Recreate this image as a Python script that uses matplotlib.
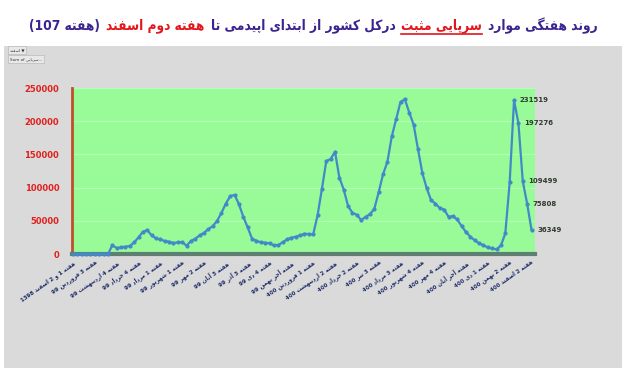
import re
import numpy as np
import matplotlib
matplotlib.use('Agg')
import matplotlib.pyplot as plt
from matplotlib.patches import Rectangle

# weekly positive outpatient cases, week 1 (Esfand 1398) .. week 107
cases = [0, 0, 0, 0, 0, 0, 0, 0, 0,
         13000, 9000, 10000, 11000, 12000, 17500, 25000, 33500, 36000, 28000,
         23500, 22000, 19500, 18500, 16500, 17500, 18000, 12500, 19500, 23000,
         28000, 32000, 37500, 42000, 50000, 62000, 76000, 87000, 89000, 75000,
         56000, 40000, 23000, 20000, 17500, 17000, 16000, 13000, 13500, 17500,
         22000, 24500, 26000, 28000, 30500, 30000, 29500, 58000, 98000, 140000,
         143000, 154000, 115000, 97000, 72000, 62000, 59000, 51000, 56000, 60000,
         68000, 93000, 120000, 139000, 177000, 203000, 229000, 233000, 213000, 195000,
         158000, 122000, 99000, 81000, 76000, 69000, 67000, 56000, 57000, 52000,
         42000, 33000, 26000, 20500, 16000, 13000, 10000, 8300, 7000, 13000,
         31000, 108000, 231519, 197276, 109499, 75808, 36349]

tick_labels = ['هفته 1 و 2 اسفند 1398', 'هفته 3 فروردین 99', 'هفته 4 اردیبهشت 99',
               'هفته 4 خرداد 99', 'هفته 1 مرداد 99', 'هفته 1 شهریور 99', 'هفته 2 مهر 99',
               'هفته 3 آبان 99', 'هفته 3 آذر 99', 'هفته 4 دی 99', 'هفته آخر بهمن 99',
               'هفته 1 فروردین 400', 'هفته 2 اردیبهشت 400', 'هفته 2 خرداد 400',
               'هفته 3 تیر 400', 'هفته 3 مرداد 400', 'هفته 4 شهریور 400', 'هفته 4 مهر 400',
               'هفته آخر آبان 400', 'هفته 1 دی 400', 'هفته 2 بهمن 400', 'هفته 2 اسفند 400']
tick_step = 5
labeled = [101, 102, 103, 104, 105]

title_parts = [('روند هفتگی موارد', '#3b2490'), ('سرپایی مثبت', '#e3161c'),
               ('درکل کشور از ابتدای اپیدمی تا', '#3b2490'), ('هفته دوم اسفند', '#e3161c'),
               ('(هفته 107)', '#3b2490')]

# minimal arabic shaping (matplotlib has no RTL / joining support)
# letter -> (first presentation code, number of forms)
FORMS = {'ا': (0xFE8D, 2), 'آ': (0xFE81, 2), 'ب': (0xFE8F, 4), 'پ': (0xFB56, 4),
         'ت': (0xFE95, 4), 'ث': (0xFE99, 4), 'ج': (0xFE9D, 4), 'چ': (0xFB7A, 4),
         'ح': (0xFEA1, 4), 'خ': (0xFEA5, 4), 'د': (0xFEA9, 2), 'ذ': (0xFEAB, 2),
         'ر': (0xFEAD, 2), 'ز': (0xFEAF, 2), 'ژ': (0xFB8A, 2), 'س': (0xFEB1, 4),
         'ش': (0xFEB5, 4), 'ف': (0xFED1, 4), 'ق': (0xFED5, 4), 'ک': (0xFB8E, 4),
         'گ': (0xFB92, 4), 'ل': (0xFEDD, 4), 'م': (0xFEE1, 4), 'ن': (0xFEE5, 4),
         'و': (0xFEED, 2), 'ه': (0xFEE9, 4), 'ی': (0xFBFC, 4)}


def shape(s):
    out = []
    for i, ch in enumerate(s):
        if ch not in FORMS:
            out.append(ch)
            continue
        base, n = FORMS[ch]
        prev = s[i - 1] if i > 0 else ''
        nxt = s[i + 1] if i + 1 < len(s) else ''
        jp = prev in FORMS and FORMS[prev][1] == 4
        jn = nxt in FORMS and n == 4
        if jp and jn:
            off = 3
        elif jp:
            off = 1
        elif jn:
            off = 2
        else:
            off = 0
        out.append(chr(base + off))
    return ''.join(out)


def rtl(s):
    t = shape(s)[::-1]
    t = t.translate({ord('('): ')', ord(')'): '('})
    return re.sub(r'[0-9]+', lambda m: m.group(0)[::-1], t)


fig = plt.figure(figsize=(6.4, 3.68), dpi=100)
fig.patch.set_facecolor('white')
fig.add_artist(Rectangle((4 / 640, 0), 618 / 640, 322 / 368, transform=fig.transFigure,
                         facecolor='#dadada', edgecolor='none', zorder=0))

ax = fig.add_axes([71.7 / 640, 114 / 368, 463.3 / 640, 166 / 368])
ax.set_facecolor('#98fb98')
x = np.arange(len(cases))
ax.plot(x, cases, color='#4189c8', lw=1.6, marker='o', ms=2.0, clip_on=False, zorder=3)
ax.set_xlim(-0.3, 105.8)
ax.set_ylim(0, 250000)

ax.set_yticks(range(0, 250001, 50000))
ax.set_yticklabels([str(v) for v in range(0, 250001, 50000)])
ax.tick_params(axis='y', length=0, pad=9, labelsize=6, labelcolor='#e0201c')
for lbl in ax.get_yticklabels():
    lbl.set_fontweight('bold')
ax.grid(axis='y', color='#b2ffb2', lw=0.8)
ax.set_axisbelow(True)

ax.set_xticks(range(0, len(cases), tick_step))
ax.set_xticklabels([rtl(t) for t in tick_labels], rotation=35, ha='right',
                   rotation_mode='anchor', fontsize=4.4, color='#22306a', fontweight='bold',
                   fontstretch='condensed')
ax.tick_params(axis='x', length=0, pad=4)

for s in ['top', 'right']:
    ax.spines[s].set_visible(False)
ax.spines['left'].set_color('#c0502a')
ax.spines['left'].set_linewidth(2)
ax.spines['bottom'].set_color('#5f7f72')
ax.spines['bottom'].set_linewidth(3)

for i in labeled:
    ax.annotate(str(cases[i]), (i, cases[i]), xytext=(4, 0), textcoords='offset points',
                va='center', fontsize=5, fontweight='bold', color='#2f3b2f')

# pivot field buttons
fig.text(10 / 640, 1 - 50 / 368, rtl('اسفند') + ' ▼', fontsize=3, color='#333333', va='center',
         bbox=dict(boxstyle='square,pad=0.4', fc='#e8e8e8', ec='#b0b0b0', lw=0.4))
fig.text(10 / 640, 1 - 59 / 368, 'Sum of ' + rtl('سرپایی') + '...', fontsize=3, color='#333333',
         va='center', bbox=dict(boxstyle='square,pad=0.4', fc='#e8e8e8', ec='#b0b0b0', lw=0.4))

# title drawn right to left in coloured pieces, font size fitted to the width
fig.canvas.draw()
renderer = fig.canvas.get_renderer()
probe = 10
widths = []
for txt, col in title_parts:
    t = fig.text(0, 0, rtl(txt), fontsize=probe, fontweight='bold', fontstretch='condensed')
    widths.append(t.get_window_extent(renderer).width)
    t.remove()
gap = 6
fs = probe * (568 - gap * (len(title_parts) - 1)) / sum(widths)

xr = 598
ty = 1 - 26 / 368
for txt, col in title_parts:
    t = fig.text(xr / 640, ty, rtl(txt), ha='right', va='center', fontsize=fs,
                 fontweight='bold', fontstretch='condensed', color=col)
    bb = t.get_window_extent(renderer)
    if txt == 'سرپایی مثبت':
        fig.add_artist(plt.Line2D([bb.x0 / 640, bb.x1 / 640], [(bb.y0 - 1) / 368] * 2,
                                  color=col, lw=1.2, transform=fig.transFigure))
    xr = bb.x0 - gap

fig.savefig('out.png', dpi=100)
